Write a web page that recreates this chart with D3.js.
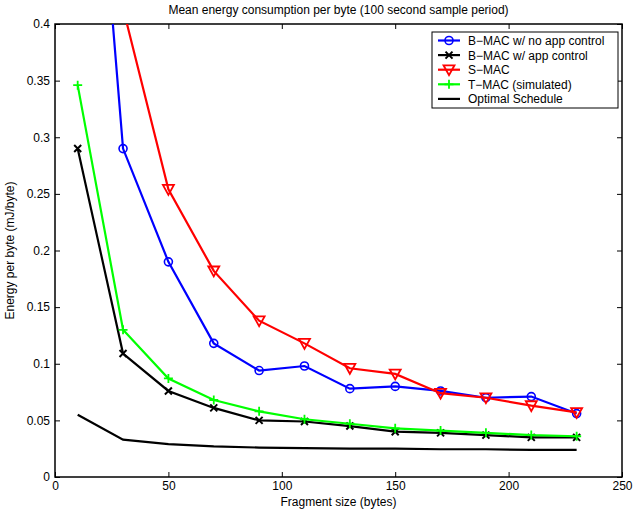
<!DOCTYPE html>
<html>
<head>
<meta charset="utf-8">
<script src="https://cdn.jsdelivr.net/npm/d3@7"></script>
<style>
  body { margin: 0; background: #fff; }
  svg text { font-family: "Liberation Sans", Arial, sans-serif; fill: #000; }
</style>
</head>
<body>
<div id="chart"></div>
<script>
// fragment sizes (bytes)
var fragSizes = [10, 30, 50, 70, 90, 110, 130, 150, 170, 190, 210, 230];

// mean energy per byte (mJ/byte) for each series
var bmacNoApp = [0.78, 0.290, 0.190, 0.118, 0.094, 0.098, 0.078, 0.080, 0.076, 0.070, 0.071, 0.056];
var bmacApp   = [0.290, 0.109, 0.076, 0.061, 0.050, 0.049, 0.045, 0.040, 0.039, 0.037, 0.035, 0.035];
var smac      = [1.0, 0.414, 0.254, 0.182, 0.138, 0.118, 0.096, 0.091, 0.074, 0.070, 0.063, 0.057];
var tmac      = [0.346, 0.130, 0.087, 0.068, 0.058, 0.051, 0.047, 0.043, 0.041, 0.039, 0.037, 0.036];
var optimal   = [0.055, 0.033, 0.029, 0.027, 0.026, 0.0255, 0.025, 0.025, 0.0245, 0.0245, 0.024, 0.024];

var seriesNames = ["B\u2212MAC w/ no app control", "B\u2212MAC w/ app control", "S\u2212MAC", "T\u2212MAC (simulated)", "Optimal Schedule"];
var xTicks = [0, 50, 100, 150, 200, 250];
var yTicks = [0, 0.05, 0.1, 0.15, 0.2, 0.25, 0.3, 0.35, 0.4];

var series = [
  {name: seriesNames[0], values: bmacNoApp, color: "#0000ff", marker: "circle"},
  {name: seriesNames[1], values: bmacApp,   color: "#000000", marker: "x"},
  {name: seriesNames[2], values: smac,      color: "#ff0000", marker: "triangle"},
  {name: seriesNames[3], values: tmac,      color: "#00ff00", marker: "plus"},
  {name: seriesNames[4], values: optimal,   color: "#000000", marker: "none"}
];

var W = 634, H = 512;
var margin = {top: 24, right: 12, bottom: 35, left: 55},
  width = W - margin.left - margin.right,
  height = H - margin.top - margin.bottom;

var svg = d3.select("#chart")
  .append("svg")
    .attr("width", W)
    .attr("height", H)
  .append("g")
    .attr("transform", "translate(" + margin.left + "," + margin.top + ")");

var x = d3.scaleLinear().domain([0, 250]).range([0, width]);
var y = d3.scaleLinear().domain([0, 0.4]).range([height, 0]);

svg.append("clipPath").attr("id", "clip")
  .append("rect").attr("width", width).attr("height", height);

// axes with inward ticks on all four sides
var fmt = function(d) { return d3.format("")(+d.toFixed(2)); };
var tickLen = 5;
function styleAxis(g) {
  g.select(".domain").remove();
  g.selectAll("line").attr("stroke", "#000").attr("stroke-width", 1);
  g.selectAll("text").style("font-size", "12px");
}
svg.append("g")
  .attr("transform", "translate(0," + height + ")")
  .call(d3.axisBottom(x).tickValues(xTicks).tickFormat(fmt).tickSizeInner(-tickLen).tickPadding(4))
  .call(styleAxis);
svg.append("g")
  .call(d3.axisTop(x).tickValues(xTicks).tickFormat("").tickSizeInner(-tickLen))
  .call(styleAxis);
svg.append("g")
  .call(d3.axisLeft(y).tickValues(yTicks).tickFormat(fmt).tickSizeInner(-tickLen).tickPadding(5))
  .call(styleAxis);
svg.append("g")
  .attr("transform", "translate(" + width + ",0)")
  .call(d3.axisRight(y).tickValues(yTicks).tickFormat("").tickSizeInner(-tickLen))
  .call(styleAxis);

svg.append("rect")
  .attr("width", width).attr("height", height)
  .attr("fill", "none").attr("stroke", "#000").attr("stroke-width", 1.5);

// lines
var line = d3.line()
  .x(function(d) { return x(d[0]); })
  .y(function(d) { return y(d[1]); });

var plot = svg.append("g").attr("clip-path", "url(#clip)");

function drawMarker(g, type, color, cx, cy) {
  if (type == "circle") {
    g.append("circle").attr("cx", cx).attr("cy", cy).attr("r", 4)
      .attr("fill", "none").attr("stroke", color).attr("stroke-width", 1.6);
  } else if (type == "x") {
    var s = 3.5;
    g.append("path").attr("d", "M" + (cx - s) + "," + (cy - s) + "L" + (cx + s) + "," + (cy + s) +
        "M" + (cx - s) + "," + (cy + s) + "L" + (cx + s) + "," + (cy - s))
      .attr("stroke", color).attr("stroke-width", 2);
  } else if (type == "triangle") {
    var t = 5.5;
    g.append("path").attr("d", "M" + (cx - t) + "," + (cy - t * 0.8) + "L" + (cx + t) + "," + (cy - t * 0.8) +
        "L" + cx + "," + (cy + t) + "Z")
      .attr("fill", "none").attr("stroke", color).attr("stroke-width", 1.8);
  } else if (type == "plus") {
    var p = 4.5;
    g.append("path").attr("d", "M" + (cx - p) + "," + cy + "L" + (cx + p) + "," + cy +
        "M" + cx + "," + (cy - p) + "L" + cx + "," + (cy + p))
      .attr("stroke", color).attr("stroke-width", 1.8);
  }
}

// same plotting order as the original (later series on top)
series.forEach(function(s) {
  var pts = fragSizes.map(function(f, j) { return [f, s.values[j]]; });
  plot.append("path")
    .datum(pts)
    .attr("d", line)
    .attr("fill", "none")
    .attr("stroke", s.color)
    .attr("stroke-width", 2.2);
  pts.forEach(function(p) {
    drawMarker(plot, s.marker, s.color, x(p[0]), y(p[1]));
  });
});

// title & axis labels
svg.append("text")
  .attr("x", width / 2).attr("y", -10)
  .attr("text-anchor", "middle")
  .style("font-size", "12px")
  .text("Mean energy consumption per byte (100 second sample period)");

svg.append("text")
  .attr("x", width / 2).attr("y", height + 29)
  .attr("text-anchor", "middle")
  .style("font-size", "12px")
  .text("Fragment size (bytes)");

svg.append("text")
  .attr("transform", "translate(" + (-41) + "," + (height / 2) + ") rotate(-90)")
  .attr("text-anchor", "middle")
  .style("font-size", "12px")
  .text("Energy per byte (mJ/byte)");

// legend
var lg = svg.append("g").attr("transform", "translate(" + (432 - margin.left) + "," + (32 - margin.top) + ")");
lg.append("rect")
  .attr("width", 186).attr("height", 76)
  .attr("fill", "#fff").attr("stroke", "#000").attr("stroke-width", 1);
series.forEach(function(s, i) {
  var ly = 8.5 + i * 14.6;
  lg.append("line")
    .attr("x1", 6).attr("x2", 28).attr("y1", ly).attr("y2", ly)
    .attr("stroke", s.color).attr("stroke-width", 2.2);
  drawMarker(lg, s.marker, s.color, 17, ly);
  lg.append("text")
    .attr("x", 36).attr("y", ly + 4.5)
    .style("font-size", "12px")
    .text(s.name);
});
</script>
</body>
</html>
